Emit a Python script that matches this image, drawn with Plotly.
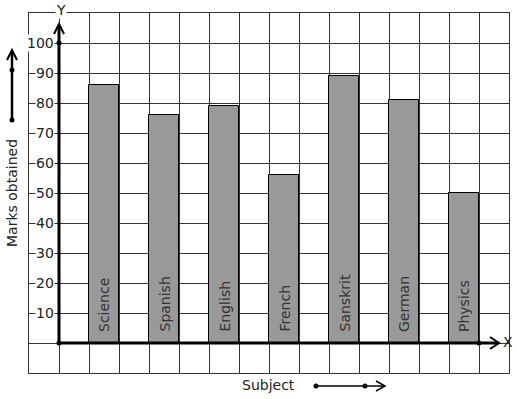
import plotly.graph_objects as go

subjects = ["Science", "Spanish", "English", "French", "Sanskrit", "German", "Physics"]
marks = [86, 76, 79, 56, 89, 81, 50]
bar_x = [1.5, 3.5, 5.5, 7.5, 9.5, 11.5, 13.5]
y_ticks = [10, 20, 30, 40, 50, 60, 70, 80, 90, 100]

W, H = 517, 399
L, R, T, B = 29, 8, 13, 26
PW, PH = W - L - R, H - T - B

def px(x):
    return (x - L) / PW

def py(y):
    return (H - B - y) / PH

FONT = "DejaVu Sans"
FS = 14

fig = go.Figure()
fig.add_trace(go.Bar(
    x=bar_x, y=marks, width=1,
    marker=dict(color="#999999", line=dict(color="#000000", width=1)),
    hoverinfo="skip", showlegend=False,
))

shapes = []
annotations = []

# axes (thick lines)
shapes.append(dict(type="line", xref="x", yref="y", x0=0, y0=0, x1=14.65, y1=0,
                   line=dict(color="black", width=3), layer="above"))
shapes.append(dict(type="line", xref="x", yref="y", x0=0, y0=0, x1=0, y1=106,
                   line=dict(color="black", width=3), layer="above"))
# arrow heads
shapes.append(dict(type="path", xref="paper", yref="paper",
                   path=f"M {px(490)} {py(337)} L {px(499)} {py(343)} L {px(490)} {py(349)}",
                   line=dict(color="black", width=2), layer="above"))
shapes.append(dict(type="path", xref="paper", yref="paper",
                   path=f"M {px(54)} {py(34)} L {px(59)} {py(24)} L {px(64)} {py(34)}",
                   line=dict(color="black", width=2), layer="above"))
# dots on axes
for (cx, cy) in [(59, 343), (59, 43), (479, 343)]:
    shapes.append(dict(type="circle", xref="paper", yref="paper",
                       x0=px(cx - 2.5), x1=px(cx + 2.5), y0=py(cy + 2.5), y1=py(cy - 2.5),
                       fillcolor="black", line=dict(width=0), layer="above"))

# left vertical arrow
shapes.append(dict(type="line", xref="paper", yref="paper", x0=px(12), x1=px(12),
                   y0=py(120), y1=py(51), line=dict(color="black", width=2.5)))
shapes.append(dict(type="path", xref="paper", yref="paper",
                   path=f"M {px(7)} {py(60)} L {px(12)} {py(50)} L {px(17)} {py(60)}",
                   line=dict(color="black", width=2)))
for cy in [70, 120]:
    shapes.append(dict(type="circle", xref="paper", yref="paper",
                       x0=px(9.5), x1=px(14.5), y0=py(cy + 2.5), y1=py(cy - 2.5),
                       fillcolor="black", line=dict(width=0)))

# bottom horizontal arrow
shapes.append(dict(type="line", xref="paper", yref="paper", x0=px(316), x1=px(384),
                   y0=py(386), y1=py(386), line=dict(color="black", width=1.5)))
shapes.append(dict(type="path", xref="paper", yref="paper",
                   path=f"M {px(376)} {py(381)} L {px(385)} {py(386)} L {px(376)} {py(391)}",
                   line=dict(color="black", width=1.5)))
for cx in [316, 365]:
    shapes.append(dict(type="circle", xref="paper", yref="paper",
                       x0=px(cx - 2.5), x1=px(cx + 2.5), y0=py(388.5), y1=py(383.5),
                       fillcolor="black", line=dict(width=0)))

# y tick labels (right-aligned, sitting on the gridlines)
for v in y_ticks:
    annotations.append(dict(x=-0.13, y=v, xref="x", yref="y", text=str(v), showarrow=False,
                            xanchor="right", yanchor="middle",
                            bgcolor="white", borderpad=0,
                            font=dict(family=FONT, size=FS, color="#222222")))

# bar labels
for s, xv in zip(subjects, bar_x):
    annotations.append(dict(x=xv, y=0, xref="x", yref="y", text=s, showarrow=False,
                            textangle=-90, xanchor="center", yanchor="bottom", yshift=9,
                            font=dict(family=FONT, size=FS, color="#333333")))

# axis letters and titles
def label(x, y, text, angle=0, bg=None):
    d = dict(x=px(x), y=py(y), xref="paper", yref="paper", text=text, showarrow=False,
             xanchor="center", yanchor="middle", textangle=angle,
             font=dict(family=FONT, size=FS, color="#222222"))
    if bg:
        d.update(bgcolor=bg, borderpad=0)
    annotations.append(d)

label(508, 342, "X")
label(61, 10, "Y", bg="white")
label(268, 385, "Subject")
label(12, 193, "Marks obtained", angle=-90)

fig.update_layout(
    width=W, height=H,
    margin=dict(l=L, r=R, t=T, b=B, pad=0),
    paper_bgcolor="white", plot_bgcolor="white",
    xaxis=dict(range=[-1, 15], dtick=1, tick0=0, showgrid=True, gridcolor="#333333",
               gridwidth=1, zeroline=False, showticklabels=False, ticks="",
               showline=True, linecolor="#333333", linewidth=1, mirror=True, fixedrange=True),
    yaxis=dict(range=[-10, 110], dtick=10, tick0=0, showgrid=True, gridcolor="#333333",
               gridwidth=1, zeroline=False, showticklabels=False, ticks="",
               showline=True, linecolor="#333333", linewidth=1, mirror=True, fixedrange=True),
    shapes=shapes, annotations=annotations,
    bargap=0, showlegend=False,
)

fig.write_html("out.html")
